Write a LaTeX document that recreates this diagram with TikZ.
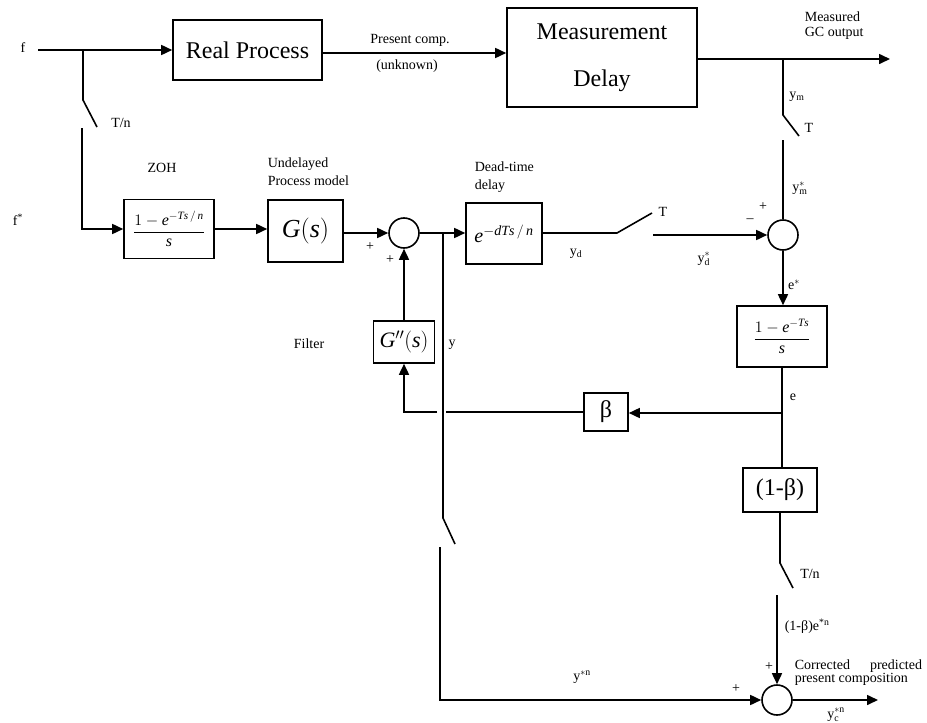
\RequirePackage{fix-cm}
\documentclass[tikz,border=0pt]{standalone}
\usepackage{fontspec}
\setmainfont{Liberation Serif}
\usetikzlibrary{arrows.meta}
\begin{document}
\begin{tikzpicture}[x=1pt,y=-1pt,
  line width=1.6pt,
  box/.style={draw, line width=1.6pt, inner sep=0pt, align=center},
  sumc/.style={draw, circle, line width=1.6pt, minimum size=30pt, inner sep=0pt},
  arr/.style={-{Triangle[length=11pt,width=10pt]}},
  lab/.style={font=\fontsize{14}{16}\selectfont, inner sep=0pt},
  big/.style={font=\fontsize{24}{28}\selectfont}]
\useasboundingbox (0,0) rectangle (927,723);

% ---- blocks
\node[box, big, minimum width=149pt, minimum height=60pt] (rp) at (247.5,50) {Real Process};
\node[box, font=\fontsize{24}{47}\selectfont, minimum width=190pt, minimum height=99pt] (md) at (602,57.5) {Measurement\\Delay};
\node[box, font=\fontsize{16}{19}\selectfont, minimum width=90pt, minimum height=59pt] (zoh) at (169,229) {$\displaystyle\frac{1-\mathit{e}^{-\mathit{Ts\,/\,n}}}{\mathit{s}}$};
\node[box, font=\fontsize{26}{30}\selectfont, minimum width=75pt, minimum height=62pt] (g) at (305.5,231) {$\mathit{G}(\mathit{s})$};
\node[sumc] (s1) at (404,233) {};
\node[box, font=\fontsize{20}{24}\selectfont, minimum width=76pt, minimum height=61pt] (dead) at (504,233.5) {$\mathit{e}^{-\mathit{dTs\,/\,n}}$};
\node[sumc] (s2) at (783,235) {};
\node[box, font=\fontsize{16}{19}\selectfont, minimum width=90pt, minimum height=61pt] (z2) at (782,336.5) {$\displaystyle\frac{1-\mathit{e}^{-\mathit{Ts}}}{\mathit{s}}$};
\node[box, big, minimum width=44pt, minimum height=38pt] (beta) at (606,412) {β};
\node[box, big, minimum width=74pt, minimum height=44pt] (onebeta) at (780,490) {(1-β)};
\node[box, font=\fontsize{22}{26}\selectfont, minimum width=61pt, minimum height=42pt] (gpp) at (404,342) {$\mathit{G}''(\mathit{s})$};
\node[sumc] (s3) at (777,700) {};

% ---- coordinates
\coordinate (fin) at (38,50);
\coordinate (fbr) at (83,50);
\coordinate (sa1) at (83,100);
\coordinate (sa2) at (97,127);
\coordinate (sa3) at (82,128);
\coordinate (out1) at (890,59);
\coordinate (ymbr) at (783,59);
\coordinate (sb1) at (783,115);
\coordinate (sb2) at (799,136);
\coordinate (sb3) at (783,140);
\coordinate (ybr) at (443,233);
\coordinate (sc1) at (617,233);
\coordinate (sc2) at (652,213);
\coordinate (sc3) at (653,235);
\coordinate (ebr) at (782,413);
\coordinate (gA) at (446,412);
\coordinate (gB) at (437,412);
\coordinate (fb) at (404,412);
\coordinate (yA) at (443,518);
\coordinate (yB) at (455,544);
\coordinate (yC) at (440,547);
\coordinate (sd1) at (780,563);
\coordinate (sd2) at (793,588);
\coordinate (sd3) at (777,595);
\coordinate (out2) at (878,700);

% ---- connectors
\draw[arr] (fin) -- (rp.west);
\draw (fbr) -- (sa1) -- (sa2);
\draw[arr] (sa3) |- (zoh.west);
\draw[arr] (rp.east |- 0,53) -- (md.west |- 0,53);
\draw[arr] (md.east |- out1) -- (out1);
\draw (ymbr) -- (sb1) -- (sb2);
\draw (sb3) -- (s2.north);
\draw[arr] (zoh.east) -- (zoh.east -| g.west);
\draw[arr] (s1.west -| g.east) -- (s1.west);
\draw[arr] (s1.east) -- (s1.east -| dead.west);
\draw (dead.east |- sc1) -- (sc1) -- (sc2);
\draw[arr] (sc3) -- (s2.west);
\draw[arr] (s2.south) -- (s2.south |- z2.north);
\draw (z2.south) -- (z2.south |- onebeta.north);
\draw[arr] (ebr) -- (ebr -| beta.east);
\draw (beta.west) -- (gA);
\draw[arr] (gB) -- (fb) -- (gpp.south);
\draw[arr] (gpp.north) -- (s1.south);
\draw (ybr) -- (yA) -- (yB);
\draw[arr] (yC) |- (s3.west);
\draw (onebeta.south) -- (sd1) -- (sd2);
\draw[arr] (sd3) -- (s3.north);
\draw[arr] (s3.east) -- (out2);

% ---- labels
\node[lab] at (23,48) {f};
\node[lab] at (18,220) {f\textsuperscript{*}};
\node[lab] at (121,123) {T/n};
\node[lab] at (162,168) {ZOH};
\node[lab, anchor=west, align=left, font=\fontsize{14}{18}\selectfont] at (267,172) {Undelayed\\Process model};
\node[lab] at (410,40) {Present comp.};
\node[lab] at (407,66) {(unknown)};
\node[lab, anchor=west, align=left, font=\fontsize{14}{18}\selectfont] at (474,177) {Dead-time\\delay};
\node[lab, anchor=west, align=left, font=\fontsize{14}{15}\selectfont] at (804,26) {Measured\\GC output};
\node[lab] at (797,97) {$\mathrm{y}_{\mathrm{m}}$};
\node[lab] at (809,128) {T};
\node[lab] at (800,188) {$\mathrm{y}^{*}_{\mathrm{m}}$};
\node[lab] at (763,207) {+};
\node[lab] at (750,221) {–};
\node[lab] at (663,212) {T};
\node[lab] at (576,254) {$\mathrm{y}_{\mathrm{d}}$};
\node[lab] at (704,259) {$\mathrm{y}^{*}_{\mathrm{d}}$};
\node[lab] at (370,247) {+};
\node[lab] at (390,260) {+};
\node[lab] at (794,285) {$\mathrm{e}^{*}$};
\node[lab] at (793,397) {e};
\node[lab] at (309,344) {Filter};
\node[lab] at (452,345) {y};
\node[lab] at (582,677) {$\mathrm{y}^{*\mathrm{n}}$};
\node[lab] at (810,574) {T/n};
\node[lab, anchor=west] at (784,626) {(1-β)e\textsuperscript{*n}};
\node[lab] at (769,667) {+};
\node[lab] at (736,689) {+};
\node[lab, anchor=west, align=left, font=\fontsize{14}{13}\selectfont] at (794,673) {Corrected\hspace{20pt}predicted\\present composition};
\node[lab] at (836,715) {$\mathrm{y}^{*\mathrm{n}}_{\mathrm{c}}$};
\end{tikzpicture}
\end{document}
